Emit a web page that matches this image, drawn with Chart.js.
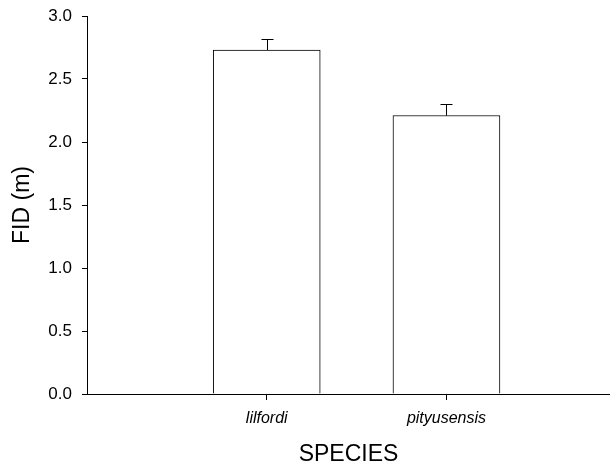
<!DOCTYPE html>
<html>
<head>
<meta charset="utf-8">
<title>FID by species</title>
<script src="https://cdn.jsdelivr.net/npm/chart.js"></script>
<style>
  html, body { margin: 0; padding: 0; background: #fff; }
  canvas { display: block; }
</style>
</head>
<body>
<canvas id="chart" width="610" height="466"></canvas>
<script>
// data
const species = ['lilfordi', 'pityusensis'];
const fidMean = [2.73, 2.21];
const fidSE = [0.09, 0.09];
const yTicks = [0, 0.5, 1.0, 1.5, 2.0, 2.5, 3.0];

const FONT = '"Liberation Sans", Arial, sans-serif';

// upward-only error bars with a small cap
const errorBars = {
  id: 'errorBars',
  afterDatasetsDraw(chart) {
    const { ctx, scales: { x, y } } = chart;
    ctx.save();
    ctx.strokeStyle = '#000';
    ctx.lineWidth = 1;
    species.forEach((name, i) => {
      const px = Math.round(x.getPixelForValue(i + 1)) + 0.5;
      const top = Math.round(y.getPixelForValue(fidMean[i] + fidSE[i])) + 0.5;
      const base = y.getPixelForValue(fidMean[i]);
      ctx.beginPath();
      ctx.moveTo(px, base);
      ctx.lineTo(px, top);
      ctx.moveTo(px - 6, top);
      ctx.lineTo(px + 6, top);
      ctx.stroke();
    });
    ctx.restore();
  }
};

new Chart(document.getElementById('chart').getContext('2d'), {
  type: 'bar',
  data: {
    datasets: [{
      data: species.map((s, i) => ({ x: i + 1, y: fidMean[i] })),
      backgroundColor: '#fff',
      borderColor: '#000',
      borderWidth: 1,
      barThickness: 107
    }]
  },
  options: {
    responsive: false,
    animation: false,
    layout: { padding: { top: 16, right: 0, left: 0, bottom: 0 } },
    plugins: { legend: { display: false }, tooltip: { enabled: false } },
    scales: {
      x: {
        type: 'linear',
        min: 0,
        max: 2.91,
        offset: false,
        afterBuildTicks: s => { s.ticks = species.map((n, i) => ({ value: i + 1 })); },
        afterFit: s => { s.height = 72; s.paddingLeft = 0; s.paddingRight = 0; },
        ticks: {
          color: '#000',
          padding: 9,
          maxRotation: 0,
          font: { family: FONT, size: 16, style: 'italic' },
          callback: v => species[v - 1]
        },
        grid: { drawOnChartArea: false, drawTicks: true, tickLength: 6, color: '#000', offset: false },
        border: { color: '#000', width: 1 },
        title: {
          display: true,
          text: 'SPECIES',
          color: '#000',
          padding: 0,
          font: { family: FONT, size: 23, lineHeight: 1 }
        }
      },
      y: {
        min: 0,
        max: 3,
        afterBuildTicks: s => { s.ticks = yTicks.map(v => ({ value: v })); },
        afterFit: s => { s.width = 87; s.paddingTop = 0; s.paddingBottom = 0; },
        ticks: {
          color: '#000',
          padding: 10,
          font: { family: FONT, size: 17, lineHeight: 1 },
          callback: v => v.toFixed(1)
        },
        grid: { drawOnChartArea: false, drawTicks: true, tickLength: 5, color: '#000' },
        border: { color: '#000', width: 1 },
        title: {
          display: true,
          text: 'FID (m)',
          color: '#000',
          padding: { top: 11, bottom: 0 },
          font: { family: FONT, size: 23, lineHeight: 1 }
        }
      }
    }
  },
  plugins: [errorBars]
});
</script>
</body>
</html>
